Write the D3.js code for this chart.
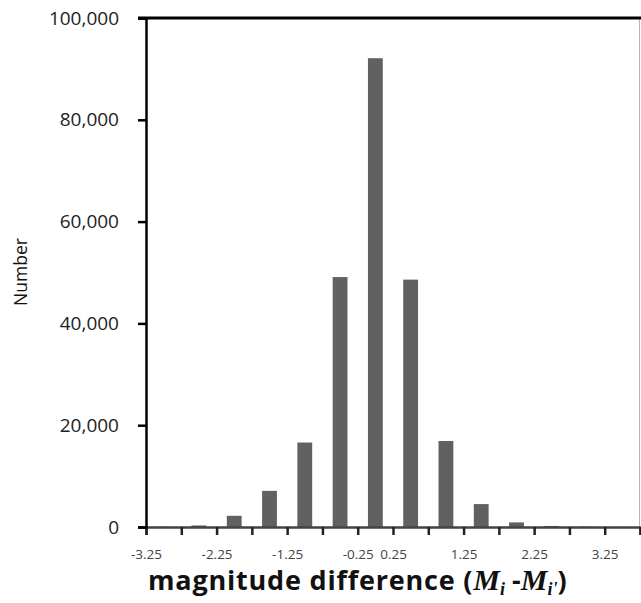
<!DOCTYPE html>
<meta charset="utf-8">

<!-- Load d3.js -->
<script src="https://d3js.org/d3.v7.min.js"></script>

<style>
    body {
        margin: 0;
        background-color: white;
    }
    svg {
        display: block;
    }
</style>

<body>
<script>

    // bin centres of the magnitude difference and how many pairs fall in each
    var binCenters = [-3.0, -2.5, -2.0, -1.5, -1.0, -0.5, 0.0, 0.5, 1.0, 1.5, 2.0, 2.5, 3.0, 3.5];
    var counts = [50, 300, 2200, 7100, 16600, 49100, 92100, 48600, 16900, 4500, 900, 200, 60, 20];

    // tick labels on the axes
    var xTickLabels = [-3.25, -2.25, -1.25, -0.25, 0.25, 1.25, 2.25, 3.25];
    var yTicks = [0, 20000, 40000, 60000, 80000, 100000];

    var data = binCenters.map(function (c, i) { return { center: c, count: counts[i] }; });

    var width = 641, height = 603;
    // plot box (window.top is reserved, so use other names)
    var plotLeft = 146, plotRight = 640, plotTop = 18, plotBottom = 527;
    var font = "'Open Sans', Lato, sans-serif";

    var svg = d3.select("body").append("svg")
        .attr("width", width)
        .attr("height", height);

    var xScale = d3.scaleLinear()
        .domain([-3.25, 3.75])
        .range([plotLeft, plotRight]);

    var yScale = d3.scaleLinear()
        .domain([0, 100000])
        .range([plotBottom, plotTop]);

    var step = xScale(0.5) - xScale(0);
    var barWidth = step * 0.42;

    // bars
    svg.append("g")
        .selectAll("rect")
        .data(data)
        .enter().append("rect")
        .attr("x", function (d) { return xScale(d.center) - barWidth / 2; })
        .attr("y", function (d) { return yScale(d.count); })
        .attr("width", barWidth)
        .attr("height", function (d) { return yScale(0) - yScale(d.count); })
        .style("fill", "#616161");

    // light right edge of the plot
    svg.append("line")
        .attr("x1", plotRight - 0.5).attr("x2", plotRight - 0.5)
        .attr("y1", plotTop).attr("y2", plotBottom)
        .style("stroke", "#b5b5b5")
        .style("stroke-width", 1);

    // x axis: ticks every 0.5, labels every other tick
    var xTickValues = d3.range(-3.25, 3.76, 0.5);
    var xAxis = svg.append("g")
        .attr("transform", "translate(0," + plotBottom + ")")
        .call(d3.axisBottom(xScale)
            .tickValues(xTickValues)
            .tickSize(8)
            .tickFormat(function (d) {
                var hit = xTickLabels.find(function (t) { return Math.abs(t - d) < 1e-6; });
                return hit === undefined ? "" : d3.format(".2f")(hit).replace("\u2212", "-");
            }));
    xAxis.select(".domain")
        .style("stroke", "#444")
        .style("stroke-width", 2.5);
    xAxis.selectAll(".tick line")
        .style("stroke", "#222")
        .style("stroke-width", 2.5);
    xAxis.selectAll(".tick text")
        .attr("y", 22)
        .style("font-family", font)
        .style("font-size", "13.5px")
        .style("fill", "#444");

    // y axis
    var yAxis = svg.append("g")
        .attr("transform", "translate(" + plotLeft + ",0)")
        .call(d3.axisLeft(yScale)
            .tickValues(yTicks)
            .tickSize(8)
            .tickFormat(d3.format(",")));
    yAxis.select(".domain")
        .style("stroke", "#000")
        .style("stroke-width", 2.5);
    yAxis.selectAll(".tick line")
        .style("stroke", "#000")
        .style("stroke-width", 2.5);
    yAxis.selectAll(".tick text")
        .attr("x", -27)
        .style("font-family", font)
        .style("font-size", "19px")
        .style("fill", "#222");

    // heavy frame line along the top
    svg.append("line")
        .attr("x1", plotLeft - 8).attr("x2", width)
        .attr("y1", plotTop).attr("y2", plotTop)
        .style("stroke", "#000")
        .style("stroke-width", 3);

    // y axis title
    svg.append("text")
        .attr("transform", "translate(27,272) rotate(-90)")
        .attr("text-anchor", "middle")
        .style("font-family", font)
        .style("font-size", "17.5px")
        .style("fill", "#111")
        .text("Number");

    // x axis title with italic M_i and M_i'
    var title = svg.append("text")
        .attr("x", 148)
        .attr("y", 590)
        .style("font-family", font)
        .style("font-size", "27px")
        .style("font-weight", "bold")
        .style("fill", "#111");
    title.append("tspan").style("letter-spacing", "0.8px").text("magnitude difference (");
    title.append("tspan").style("font-family", "'Liberation Serif', serif").style("font-style", "italic")
        .style("font-size", "30px").text("M");
    title.append("tspan").style("font-family", "'Liberation Serif', serif").style("font-style", "italic")
        .style("font-size", "18px").attr("dy", 5).text("i");
    title.append("tspan").attr("dy", -5).text(" -");
    title.append("tspan").style("font-family", "'Liberation Serif', serif").style("font-style", "italic")
        .style("font-size", "30px").text("M");
    title.append("tspan").style("font-family", "'Liberation Serif', serif").style("font-style", "italic")
        .style("font-size", "18px").attr("dy", 5).text("i'");
    title.append("tspan").attr("dy", -5).text(")");

</script>
</body>
